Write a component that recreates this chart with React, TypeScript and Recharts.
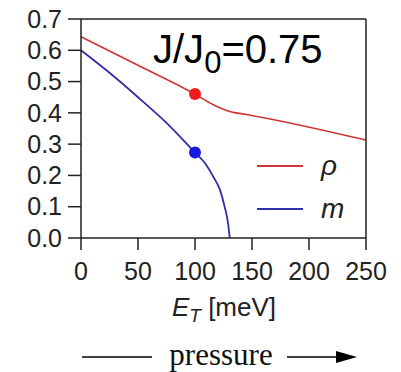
import React from 'react';
import { ComposedChart, Line, Scatter, XAxis, YAxis } from 'recharts';

// E_T [meV] sample points for each curve
const rhoE = [0, 50, 100, 116, 126, 132, 145, 250];
const rhoV = [0.643, 0.552, 0.46, 0.426, 0.41, 0.403, 0.395, 0.313];
const mE = [0, 25, 50, 75, 100, 109, 116, 122, 126, 129, 130.5];
const mV = [0.6, 0.528, 0.45, 0.368, 0.273, 0.238, 0.196, 0.153, 0.1, 0.047, 0];

// highlighted points at E_T = 100 meV
const markE = [100];
const rhoMark = [0.46];
const mMark = [0.273];

const xTicks = [0, 50, 100, 150, 200, 250];
const yTicks = [0, 0.1, 0.2, 0.3, 0.4, 0.5, 0.6, 0.7];

const rhoData = rhoE.map((E, i) => ({ E, v: rhoV[i] }));
const mData = mE.map((E, i) => ({ E, v: mV[i] }));
const rhoDot = markE.map((E, i) => ({ E, v: rhoMark[i] }));
const mDot = markE.map((E, i) => ({ E, v: mMark[i] }));

const SANS = '"Liberation Sans", Arial, sans-serif';
const AXIS = '#222';
const RED = '#cc3535';
const BLUE = '#2f2fa8';
const axisLine = { stroke: AXIS, strokeWidth: 1.5 };

// tick mark + optional label, placed from the position recharts hands to the tick renderer
type Side = 'left' | 'right' | 'top' | 'bottom';
const makeTick = (side: Side, size: number, margin: number, fmt?: (v: number) => string) => (p: any) => {
  const { x, y, payload } = p;
  let l = { x1: x, y1: y, x2: x, y2: y };
  if (side === 'left') l = { x1: x + margin, x2: x + margin + size, y1: y, y2: y };
  if (side === 'right') l = { x1: x - margin - size, x2: x - margin, y1: y, y2: y };
  if (side === 'bottom') l = { x1: x, x2: x, y1: y - margin - size, y2: y - margin };
  if (side === 'top') l = { x1: x, x2: x, y1: y + margin, y2: y + margin + size };
  return (
    <g>
      <line {...l} stroke={AXIS} strokeWidth={1.5} />
      {fmt && (
        <text
          x={x}
          y={y}
          textAnchor={side === 'left' ? 'end' : 'middle'}
          dy={side === 'left' ? '0.35em' : '0.71em'}
          fontFamily={SANS}
          fontSize={25}
          fill="#222"
        >
          {fmt(payload.value)}
        </text>
      )}
    </g>
  );
};

const Dot = (color: string) => (p: any) => <circle cx={p.cx} cy={p.cy} r={6} fill={color} />;

function LegendBox() {
  const row = (color: string, label: string) => (
    <div style={{ display: 'flex', alignItems: 'center', height: 43 }}>
      <div style={{ width: 46, height: 2, background: color }} />
      <span style={{ marginLeft: 18, fontFamily: SANS, fontStyle: 'italic', fontSize: 28, color: '#222' }}>{label}</span>
    </div>
  );
  return (
    <div style={{ position: 'absolute', left: 257, top: 144 }}>
      {row(RED, 'ρ')}
      {row(BLUE, 'm')}
    </div>
  );
}

export default function App() {
  return (
    <div style={{ position: 'absolute', left: 0, top: 0, width: 401, height: 372, background: '#fff' }}>
      <ComposedChart width={401} height={372} margin={{ top: 9, right: 15, bottom: 94, left: 21 }}>
        <XAxis
          xAxisId="b"
          dataKey="E"
          type="number"
          domain={[0, 250]}
          ticks={xTicks}
          interval={0}
          tickSize={12}
          tickMargin={12}
          height={40}
          axisLine={axisLine}
          tickLine={false}
          tick={makeTick('bottom', 12, 12, (v) => String(v))}
          allowDuplicatedCategory={false}
        />
        <XAxis
          xAxisId="t"
          orientation="top"
          dataKey="E"
          type="number"
          domain={[0, 250]}
          ticks={xTicks}
          interval={0}
          tickSize={9}
          tickMargin={2}
          height={10}
          axisLine={axisLine}
          tickLine={false}
          tick={makeTick('top', 9, 2)}
          allowDuplicatedCategory={false}
        />
        <YAxis
          yAxisId="l"
          type="number"
          domain={[0, 0.7]}
          ticks={yTicks}
          interval={0}
          tickSize={13}
          tickMargin={6}
          width={60}
          axisLine={axisLine}
          tickLine={false}
          tick={makeTick('left', 13, 6, (v) => v.toFixed(1))}
        />
        <YAxis
          yAxisId="r"
          orientation="right"
          type="number"
          domain={[0, 0.7]}
          ticks={yTicks}
          interval={0}
          tickSize={13}
          tickMargin={2}
          width={20}
          axisLine={axisLine}
          tickLine={false}
          tick={makeTick('right', 13, 2)}
        />
        <Line xAxisId="b" yAxisId="l" data={rhoData} dataKey="v" type="monotone" stroke={RED} strokeWidth={1.6} dot={false} isAnimationActive={false} />
        <Line xAxisId="b" yAxisId="l" data={mData} dataKey="v" type="monotone" stroke={BLUE} strokeWidth={1.8} dot={false} isAnimationActive={false} />
        <Scatter xAxisId="b" yAxisId="l" data={rhoDot} dataKey="v" shape={Dot('#ee1c1c')} isAnimationActive={false} />
        <Scatter xAxisId="b" yAxisId="l" data={mDot} dataKey="v" shape={Dot('#1818e0')} isAnimationActive={false} />
      </ComposedChart>
      <LegendBox />
      <svg width={401} height={372} style={{ position: 'absolute', left: 0, top: 0, pointerEvents: 'none' }}>
        <text x={153} y={63} fontFamily={SANS} fontSize={40} fill="#000">
          J/J
          <tspan fontSize={31} dy={10}>0</tspan>
          <tspan dy={-10}>=0.75</tspan>
        </text>
        <text x={224} y={316} textAnchor="middle" fontFamily={SANS} fontSize={26} fill="#222">
          <tspan fontStyle="italic">E</tspan>
          <tspan fontStyle="italic" fontSize={19} dy={6}>T</tspan>
          <tspan dy={-6}> [meV]</tspan>
        </text>
        <line x1={82} y1={357} x2={152} y2={357} stroke="#000" strokeWidth={1.5} />
        <text x={221} y={365} textAnchor="middle" fontFamily='"Liberation Serif", "Times New Roman", serif' fontSize={31} fill="#111">
          pressure
        </text>
        <line x1={287} y1={357} x2={340} y2={357} stroke="#000" strokeWidth={1.5} />
        <polygon points="357,357 336,351 336,363" fill="#000" />
      </svg>
    </div>
  );
}
